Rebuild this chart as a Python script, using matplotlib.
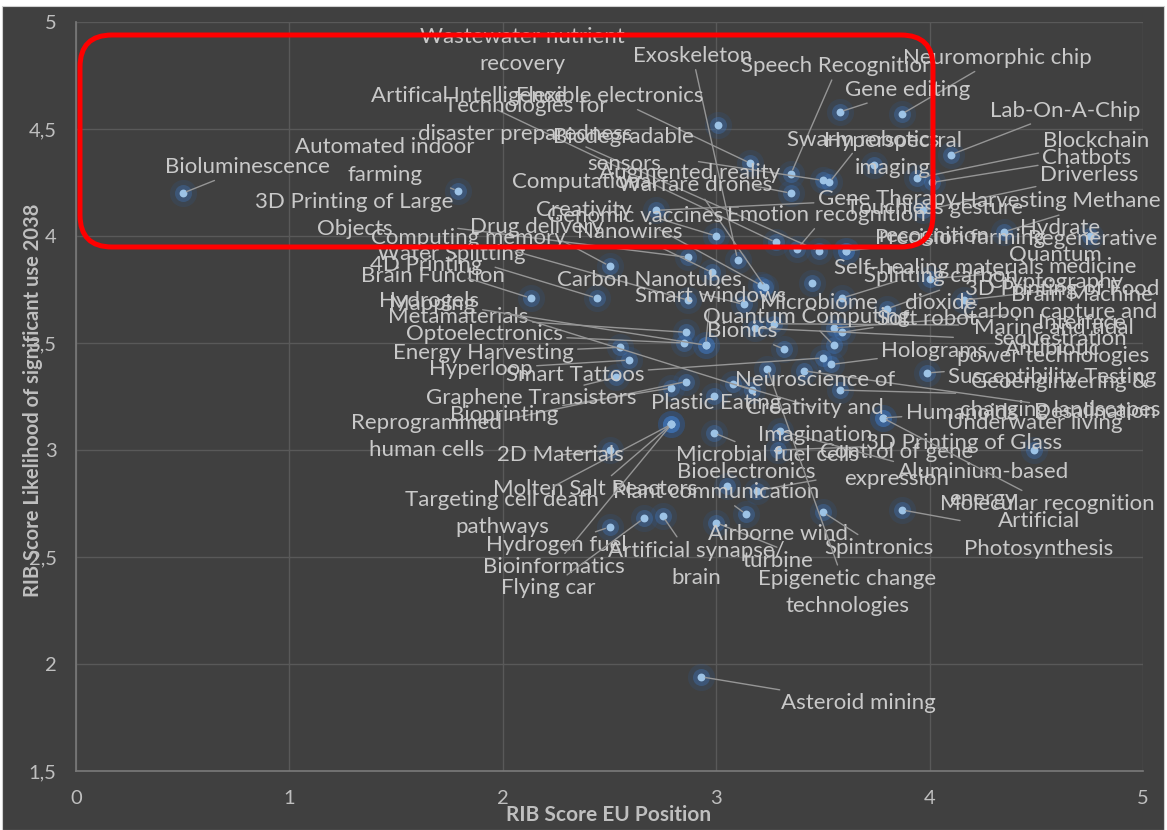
import matplotlib
matplotlib.use("Agg")
import matplotlib.pyplot as plt
from matplotlib.patches import FancyBboxPatch, Rectangle
from matplotlib.transforms import IdentityTransform
from matplotlib.ticker import FuncFormatter, MultipleLocator

plt.rcParams['font.family'] = ['Lato', 'DejaVu Sans']

# Radical innovation breakthroughs: EU position score vs. likelihood of significant use by 2038
names = [
    "Bioluminescence", "Automated indoor\nfarming", "3D Printing of Large\nObjects",
    "Wastewater nutrient\nrecovery", "Exoskeleton", "Speech Recognition", "Neuromorphic chip",
    "Gene editing", "Lab-On-A-Chip", "Artifical Intelligence", "Flexible electronics",
    "Technologies for\ndisaster preparedness", "Biodegradable\nsensors", "Swarm robotics",
    "Hyperspectral\nimaging", "Blockchain", "Chatbots", "Driverless", "Augmented reality",
    "Computational\nCreativity", "Warfare drones", "Genomic vaccines", "Emotion recognition",
    "Gene Therapy", "Touchless gesture\nrecognition", "Precision farming",
    "Harvesting Methane\nHydrate", "Regenerative\nmedicine", "Quantum\nCryptography",
    "Self-healing materials", "Splitting carbon\ndioxide", "3D Printing of Food",
    "Brain Machine\nInterface", "Carbon capture and\nsequestration",
    "Marine and tidal\npower technologies", "Antibiotic\nSusceptibility Testing",
    "Geoengineering &\nchanging landscapes", "Humanoids", "Desalination", "Underwater living",
    "3D Printing of Glass", "Control of gene\nexpression", "Aluminium-based\nenergy",
    "Molecular recognition", "Artificial\nPhotosynthesis", "Microbial fuel cells",
    "Bioelectronics", "Plant communication", "Molten Salt Reactors",
    "Targeting cell death\npathways", "Hydrogen fuel", "Bioinformatics", "Flying car",
    "Artificial synapse/\nbrain", "Airborne wind\nturbine", "Spintronics",
    "Epigenetic change\ntechnologies", "Asteroid mining", "2D Materials",
    "Reprogrammed\nhuman cells", "Bioprinting", "Graphene Transistors", "Smart Tattoos",
    "Hyperloop", "Energy Harvesting", "Optoelectronics", "Metamaterials", "Hydrogels",
    "Brain Function\nMapping", "4D Printing", "Water Splitting", "Computing memory",
    "Drug delivery", "Nanowires", "Carbon Nanotubes", "Smart windows", "Microbiome",
    "Quantum Computing", "Soft robot", "Bionics", "Holograms",
    "Neuroscience of\nCreativity and\nImagination", "Plastic Eating",
]

eu_position = [
    0.50, 1.79, 2.87, 3.01, 3.10, 3.35, 3.87, 3.58, 4.10, 3.28, 3.16,
    3.48, 3.50, 3.53, 3.74, 3.94, 4.01, 3.97, 3.35, 3.00, 3.23, 3.21, 3.38,
    2.72, 3.61, 3.61, 4.35, 4.75, 4.00, 3.59, 3.80, 4.16, 3.55, 3.27,
    3.18, 3.99, 3.58, 3.78, 3.41, 4.49, 3.29, 3.19, 3.30, 3.78, 3.87, 2.99,
    3.05, 3.14, 2.79, 2.79, 2.50, 2.79, 2.66, 2.75, 3.00, 3.50, 3.24, 2.93,
    2.50, 2.86, 2.79, 2.53, 3.50, 2.59, 2.55, 2.85, 2.86, 2.95, 3.17, 2.13,
    2.44, 2.87, 2.50, 2.98, 3.13, 2.95, 3.45, 3.55, 3.59, 3.32, 3.54, 3.08,
    2.99,
]

likelihood_2038 = [
    4.20, 4.21, 3.90, 4.52, 3.89, 4.29, 4.57, 4.58, 4.38, 3.97, 4.34,
    3.93, 4.26, 4.25, 4.33, 4.27, 4.25, 4.12, 4.20, 4.00, 3.76, 3.77, 3.94,
    4.12, 3.93, 3.93, 4.02, 4.00, 3.80, 3.71, 3.66, 3.70, 3.57, 3.59,
    3.57, 3.36, 3.28, 3.15, 3.37, 3.00, 3.00, 2.81, 3.09, 3.15, 2.72, 3.08,
    2.83, 2.70, 3.12, 3.12, 2.64, 3.12, 2.68, 2.69, 2.66, 2.71, 3.38, 1.94,
    3.00, 3.32, 3.29, 3.34, 3.43, 3.42, 3.48, 3.50, 3.55, 3.49, 3.28, 3.71,
    3.71, 3.70, 3.86, 3.83, 3.68, 3.49, 3.78, 3.49, 3.55, 3.47, 3.40, 3.31,
    3.25,
]

# Label placement: offset of each label centre from its point, in pixels (x right, y up)
label_dx = [
    65, -73, -334, -196, -45, 47, 96, 68, 114, -307, -141,
    -293, -199, 34, 19, 179, 155, 166, -101, -132, -70, -126, 29,
    231, 88, 114, 56, 3, 126, 97, 54, 98, 248, 286,
    299, 125, 220, 79, 291, 1, 186, 140, 203, 165, 137, 53,
    19, -30, -76, -169, -53, -118, -95, 33, 62, 56, 80, 157,
    -49, -260, -167, -85, -248, -148, -137, -200, -228, -277, -320, -104,
    -145, -220, -73, -82, -95, 5, 7, -27, 85, -42, 103, 82,
    2,
]
label_dy = [
    26, 30, 42, 74, 204, 108, 56, 22, 44, 146, 67,
    131, 30, 43, 11, 37, 25, 35, 20, 40, 102, 69, 34,
    11, 29, 13, 17, -17, 10, 30, 19, 11, 19, -2,
    -14, 10, -6, 5, -41, 27, 7, 25, -55, -86, -25, -22,
    14, 22, -65, -89, -18, -143, -70, -48, -25, -36, -224, -26,
    -5, -55, -27, -21, -17, -9, -6, 9, 15, 44, 100, 33,
    44, 62, 39, 40, 24, 49, -20, 28, 13, 18, 13, -24,
    -6,
]
leader_hidden = {"Wastewater nutrient\nrecovery", "Plastic Eating"}

W, H, DPI = 1167, 830, 100
BG = "#404040"
TXT = "#C9C9C9"
GRID = "#595959"

fig = plt.figure(figsize=(W / DPI, H / DPI), dpi=DPI, facecolor="white")
fig.patches.append(Rectangle((2, 0), 1162, 824, transform=IdentityTransform(),
                             facecolor=BG, edgecolor="#D0D0D0", linewidth=0.8,
                             zorder=-10, figure=fig))

ax = fig.add_axes([76 / W, (H - 771) / H, (1143 - 76) / W, (771 - 22) / H])
ax.set_facecolor(BG)
ax.set_xlim(0, 5)
ax.set_ylim(1.5, 5)
ax.xaxis.set_major_locator(MultipleLocator(1))
ax.yaxis.set_major_locator(MultipleLocator(0.5))
comma = FuncFormatter(lambda v, p: (f"{v:g}").replace(".", ","))
ax.xaxis.set_major_formatter(comma)
ax.yaxis.set_major_formatter(comma)
ax.grid(True, color=GRID, linewidth=1.0, zorder=0)
ax.set_axisbelow(True)
for side in ("top", "right"):
    ax.spines[side].set_visible(False)
for side in ("left", "bottom"):
    ax.spines[side].set_color("#7A7A7A")
    ax.spines[side].set_linewidth(1.2)
ax.tick_params(length=0, colors="#BFBFBF", labelsize=14.5, pad=14)
for lab in ax.get_xticklabels() + ax.get_yticklabels():
    lab.set_color("#BFBFBF")

ax.set_xlabel("RIB Score EU Position", fontsize=15, fontweight="bold",
              color="#BFBFBF")
ax.set_ylabel("RIB Score Likelihood of significant use 2038", fontsize=14.5,
              fontweight="bold", color="#BFBFBF")
ax.xaxis.set_label_coords(0.499, -0.045)
ax.yaxis.set_label_coords(-0.031, 0.495)

# glowing markers
ax.scatter(eu_position, likelihood_2038, s=380, color="#2E5F9E", alpha=0.18,
           linewidths=0, zorder=3)
ax.scatter(eu_position, likelihood_2038, s=150, color="#3F78C0", alpha=0.35,
           linewidths=0, zorder=3)
ax.scatter(eu_position, likelihood_2038, s=32, color="#9DC3E6", linewidths=0,
           zorder=4)

for name, x, y, dx, dy in zip(names, eu_position, likelihood_2038, label_dx, label_dy):
    far = (dx * dx + dy * dy) ** 0.5 > 32 and name not in leader_hidden
    arrow = dict(arrowstyle="-", color="#969696", lw=1.0, shrinkA=1, shrinkB=3) if far else None
    ax.annotate(name, xy=(x, y), xytext=(dx, dy), textcoords="offset pixels",
                ha="center", va="center", fontsize=16, color=TXT,
                linespacing=1.45, multialignment="center",
                arrowprops=arrow, zorder=5,
                annotation_clip=False)

# highlighted region
fig.patches.append(FancyBboxPatch((80, H - 247), 853, 212,
                                  boxstyle="round,pad=0,rounding_size=32",
                                  transform=IdentityTransform(), facecolor="none",
                                  edgecolor="#FF0000", linewidth=3.6, zorder=20,
                                  figure=fig))

fig.savefig("out.png", dpi=DPI, facecolor=fig.get_facecolor())
